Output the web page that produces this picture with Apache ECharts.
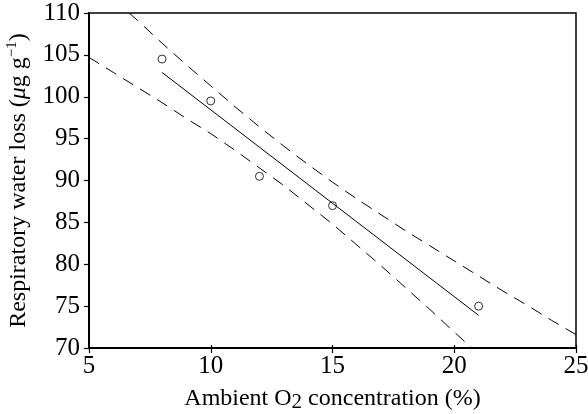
<!DOCTYPE html>
<html><head><meta charset="utf-8">
<script src="https://cdn.jsdelivr.net/npm/echarts@6/dist/echarts.min.js"></script>
<style>html,body{margin:0;padding:0;background:#fff}#c{width:588px;height:414px}</style>
</head><body><div id="c"></div>
<script>
// Observed data points: ambient O2 (%) vs respiratory water loss (µg g-1)
const o2 = [8, 10, 12, 15, 21];
const waterLoss = [104.5, 99.5, 90.5, 87, 75];
// Regression line end points
const fitX = [8, 21];
const fitY = [102.9, 73.9];
// Upper dashed confidence curve
const upperX = [6.65, 7, 8, 9, 10, 11, 12, 13, 14, 15, 16, 17, 18, 19, 20, 21, 22, 23, 24, 25];
const upperY = [110, 109.1, 106.4, 103.8, 101.3, 98.8, 96.4, 94.1, 91.9, 89.8, 87.8, 85.9, 84.0, 82.2, 80.4, 78.6, 76.8, 75.1, 73.3, 71.6];
// Lower dashed confidence curve
const lowerX = [5, 6, 7, 8, 9, 10, 11, 12, 13, 14, 15, 16, 17, 18, 19, 20, 20.72];
const lowerY = [104.7, 102.9, 101.1, 99.3, 97.4, 95.6, 93.6, 91.5, 89.4, 87.1, 84.8, 82.3, 79.8, 77.2, 74.6, 71.9, 70];
const xTicks = [5, 10, 15, 20, 25];
const yTicks = [70, 75, 80, 85, 90, 95, 100, 105, 110];

const zip = (a, b) => a.map((v, i) => [v, b[i]]);
const F = 'Liberation Serif, Times New Roman, serif';
const chart = echarts.init(document.getElementById('c'));
const dash = {color: '#000', width: 1, type: [12, 8]};
chart.setOption({
  animation: false,
  grid: {left: 89, right: 12, top: 13, bottom: 66, containLabel: false, outerBoundsMode: 'none',
         show: true, borderColor: '#000', borderWidth: 1.5, backgroundColor: 'transparent'},
  xAxis: [{
    type: 'value', min: xTicks[0], max: xTicks[xTicks.length-1], interval: 5,
    axisLine: {lineStyle: {color: '#000', width: 2}},
    axisTick: {inside: false, length: 5, lineStyle: {color: '#000', width: 1.2}},
    axisLabel: {color: '#000', fontFamily: F, fontSize: 25, margin: 6},
    splitLine: {show: false},
    name: '{a|Ambient O}{s|2}{a| concentration (%)}',
    nameLocation: 'middle', nameGap: 37,
    nameTextStyle: {rich: {a: {fontFamily: F, fontSize: 24, color: '#000'}, s: {fontFamily: F, fontSize: 21, color: '#000', padding: [7, 0, 0, 0]}}}
  }, {
    type: 'value', min: 5, max: 25, interval: 5, position: 'bottom', gridIndex: 0,
    axisLine: {show: false}, axisLabel: {show: false}, splitLine: {show: false},
    axisTick: {inside: true, length: 3, lineStyle: {color: '#000', width: 1.2}}
  }],
  yAxis: {
    type: 'value', min: yTicks[0], max: yTicks[yTicks.length-1], interval: 5,
    axisLine: {show: true, lineStyle: {color: '#000', width: 2}},
    axisTick: {show: true, inside: false, length: 5, lineStyle: {color: '#000', width: 1.2}},
    axisLabel: {color: '#000', fontFamily: F, fontSize: 25, margin: 9},
    splitLine: {show: false},
    name: '{a|Respiratory water loss (}{m|μ}{a|g g}{s|−1}{a|)}',
    nameLocation: 'middle', nameGap: 57, nameRotate: 90,
    nameTextStyle: {rich: {
      a: {fontFamily: F, fontSize: 24, color: '#000'},
      m: {fontFamily: F, fontSize: 24, color: '#000', fontStyle: 'italic'},
      s: {fontFamily: F, fontSize: 15, color: '#000', padding: [0, 0, 12, 0]}
    }}
  },
  series: [
    {type: 'line', data: zip(upperX, upperY), showSymbol: false, lineStyle: dash, clip: true},
    {type: 'line', data: zip(lowerX, lowerY), showSymbol: false, lineStyle: dash, clip: true},
    {type: 'line', data: zip(fitX, fitY), showSymbol: false, lineStyle: {color: '#000', width: 1}},
    {type: 'scatter', data: zip(o2, waterLoss), symbol: 'circle', symbolSize: 8,
     itemStyle: {color: '#fff', borderColor: '#000', borderWidth: 1}}
  ]
});
</script></body></html>
